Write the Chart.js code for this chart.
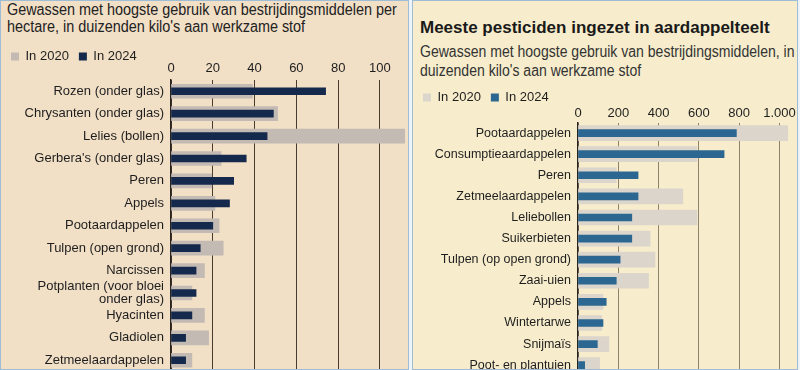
<!DOCTYPE html>
<html>
<head>
<meta charset="utf-8">
<script src="https://cdn.jsdelivr.net/npm/chart.js@4"></script>
<style>
  body { margin: 0; width: 800px; height: 370px; overflow: hidden; background: #eef3f8;
         font-family: "Liberation Sans", Arial, sans-serif; color: #1e1e1e; }
  .panel { position: absolute; top: 0; height: 368px; overflow: hidden; border: 1px solid #9fbcd6; }
  #leftPanel { left: 0; width: 407px; background: #f1dfc6; }
  #rightPanel { left: 412px; width: 384px; background: #f7edcc; }
  .sub { position: absolute; white-space: nowrap; color: #222; transform: scaleX(0.9); transform-origin: 0 0; }
  .title { position: absolute; white-space: nowrap; font-size: 17px; line-height: 17px; font-weight: bold; color: #1a1a1a; }
  .box { position: absolute; left: 0; }
</style>
</head>
<body>
<div class="panel" id="leftPanel">
  <div class="sub" style="left:6px; top:0px; font-size:16px; line-height:17px;">Gewassen met hoogste gebruik van bestrijdingsmiddelen per<br>hectare, in duizenden kilo's aan werkzame stof</div>
  <div class="box" style="top:38.5px; width:407px; height:345px;"><canvas id="leftChart"></canvas></div>
</div>
<div class="panel" id="rightPanel">
  <div class="title" style="left:7px; top:18px;">Meeste pesticiden ingezet in aardappelteelt</div>
  <div class="sub" style="left:7px; top:41px; font-size:15.6px; line-height:19px; color:#333;">Gewassen met hoogste gebruik van bestrijdingsmiddelen, in<br>duizenden kilo's aan werkzame stof</div>
  <div class="box" style="top:80px; width:384px; height:308px;"><canvas id="rightChart"></canvas></div>
</div>
<script>
// left chart: per hectare
const leftCrops = [
  "Rozen (onder glas)", "Chrysanten (onder glas)", "Lelies (bollen)", "Gerbera's (onder glas)",
  "Peren", "Appels", "Pootaardappelen", "Tulpen (open grond)", "Narcissen",
  ["Potplanten (voor bloei", "onder glas)"], "Hyacinten", "Gladiolen", "Zetmeelaardappelen"
];
const left2020 = [39, 51, 112, 24, 19.5, 21, 23, 25, 16, 10, 16, 18, 10];
const left2024 = [74, 49, 46, 36, 30, 28, 20, 14, 12, 12, 10, 7, 7];
const leftTicks = [0, 20, 40, 60, 80, 100];

// right chart: totals
const rightCrops = [
  "Pootaardappelen", "Consumptieaardappelen", "Peren", "Zetmeelaardappelen", "Leliebollen",
  "Suikerbieten", "Tulpen (op open grond)", "Zaai-uien", "Appels", "Wintertarwe",
  "Snijmaïs", "Poot- en plantuien"
];
const right2020 = [1041, 590, 190, 520, 590, 358, 382, 350, 124, 118, 153, 107];
const right2024 = [786, 725, 298, 298, 267, 267, 209, 190, 140, 124, 96, 33];
const rightTicks = [0, 200, 400, 600, 800, 1000];

const FONT = '"Liberation Sans", Arial, sans-serif';

function nlNumber(v) {
  return String(v).replace(/\B(?=(\d{3})+(?!\d))/g, ".");
}

function makeChart(id, crops, old, cur, ticks, cfg) {
  const ctx = document.getElementById(id).getContext("2d");
  return new Chart(ctx, {
    type: "bar",
    data: {
      labels: crops,
      datasets: [
        { label: "In 2024", data: cur, backgroundColor: cfg.dark, barThickness: cfg.thin, grouped: false },
        { label: "In 2020", data: old, backgroundColor: cfg.light, barThickness: cfg.thick, grouped: false }
      ]
    },
    options: {
      indexAxis: "y",
      responsive: true,
      maintainAspectRatio: false,
      animation: false,
      layout: { padding: { left: 0, right: cfg.padRight, top: 0, bottom: 0 } },
      plugins: {
        tooltip: { enabled: false },
        legend: {
          position: "top",
          align: "start",
          reverse: true,
          maxHeight: cfg.legendHeight,
          labels: {
            boxWidth: 8, boxHeight: 8, padding: 10,
            color: "#1e1e1e",
            font: { family: FONT, size: 13 }
          }
        }
      },
      scales: {
        x: {
          position: "top",
          min: 0,
          max: cfg.max,
          afterBuildTicks: (s) => { s.ticks = ticks.map((v) => ({ value: v })); },
          afterFit: (s) => { s.height = cfg.axisHeight; },
          border: { display: false },
          grid: { color: cfg.gridColor, lineWidth: 1, drawTicks: false },
          ticks: {
            padding: cfg.tickPad,
            maxRotation: 0,
            minRotation: 0,
            autoSkip: false,
            color: "#1e1e1e",
            font: { family: FONT, size: 13 },
            callback: (v) => nlNumber(v)
          }
        },
        y: {
          afterFit: (s) => { s.width = cfg.labelWidth; },
          grid: { display: false, drawTicks: false },
          border: { display: true, color: "#2a2420", width: 1.5 },
          ticks: {
            padding: 7,
            autoSkip: false,
            color: "#1e1e1e",
            font: { family: FONT, size: cfg.labelSize, lineHeight: 1.0 }
          }
        }
      }
    }
  });
}

makeChart("leftChart", leftCrops, left2020, left2024, leftTicks, {
  dark: "#14294b", light: "#c4bab4", thin: 7, thick: 14,
  max: 112, labelWidth: 170, padRight: 3, legendHeight: 22, axisHeight: 18, tickPad: 3.5,
  labelSize: 13, gridColor: "#4a3b2f"
});

makeChart("rightChart", rightCrops, right2020, right2024, rightTicks, {
  dark: "#2b6790", light: "#dbd5cb", thin: 7, thick: 15,
  max: 1060, labelWidth: 165, padRight: 4, legendHeight: 24, axisHeight: 17.5, tickPad: 1,
  labelSize: 12.5, gridColor: "#8f826c"
});
</script>
</body>
</html>
